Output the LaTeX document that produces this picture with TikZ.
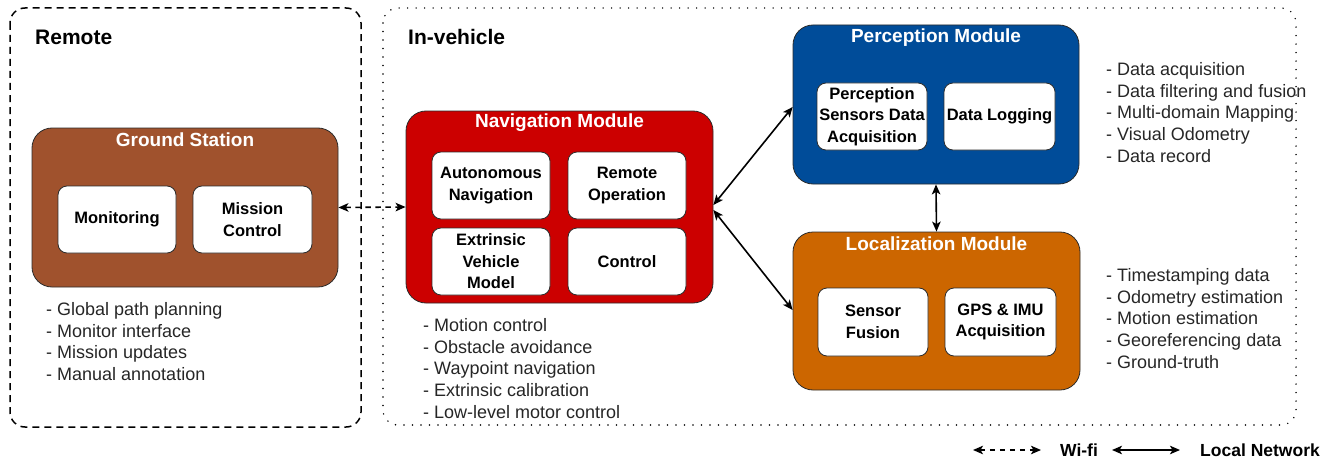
\documentclass[tikz,border=0pt]{standalone}
\usepackage{fontspec}
\setmainfont{Liberation Sans}
\usetikzlibrary{arrows.meta}
\definecolor{gsbrown}{HTML}{A0522D}
\definecolor{navred}{HTML}{CC0000}
\definecolor{percblue}{HTML}{004C99}
\definecolor{locorange}{HTML}{CC6600}
\definecolor{edge}{HTML}{2B2B2B}

\begin{document}
\begin{tikzpicture}[x=1pt,y=-1pt,
  module/.style={draw=edge, line width=0.8pt, rounded corners=20pt, inner sep=0pt},
  unit/.style={draw=edge, fill=white, line width=0.8pt, rounded corners=9pt,
    inner sep=0pt, align=center, font=\fontsize{16.5}{21.5}\selectfont\bfseries},
  title/.style={text=white, inner sep=0pt, font=\fontsize{19}{22}\selectfont\bfseries},
  heading/.style={anchor=west, inner sep=0pt, font=\fontsize{21}{24}\selectfont\bfseries},
  notes/.style={anchor=north west, inner sep=0pt, align=left, text=black!85,
    font=\fontsize{18}{21.6}\selectfont},
  legendtext/.style={inner sep=0pt, font=\fontsize{17.5}{20}\selectfont\bfseries},
  link/.style={line width=1.6pt, {Stealth[length=10pt,width=8.5pt,inset=2.5pt]}-{Stealth[length=10pt,width=8.5pt,inset=2.5pt]}},
  wifi/.style={link, dash pattern=on 5.5pt off 4.5pt},
]
\useasboundingbox (0,0) rectangle (1339,460);

% group frames
\draw[line width=1.5pt, dash pattern=on 7pt off 5pt, rounded corners=15pt]
  (10,8) rectangle (361,427);
\draw[line width=1.6pt, line cap=round, dash pattern=on 0pt off 8.5pt, rounded corners=15pt]
  (383,8) rectangle (1296,425);
\node[heading] (hremote) at (35,37) {Remote};
\node[heading] (hveh) at (408,37) {In-vehicle};

% ground station
\node[module, fill=gsbrown, minimum width=306pt, minimum height=159pt] (gs) at (185,207.5) {};
\node[title] (gst) at (185,140) {Ground Station};
\node[unit, minimum width=118pt, minimum height=67pt] (mon) at (117,219.5) {Monitoring};
\node[unit, minimum width=119pt, minimum height=67pt] (mc) at (252.5,219.5) {Mission\\Control};
\node[notes] (gsl) at (46,302.5) {- Global path planning\\- Monitor interface\\- Mission updates\\- Manual annotation};

% navigation module
\node[module, fill=navred, minimum width=307pt, minimum height=192pt] (nav) at (559.5,207) {};
\node[title] (navt) at (559.5,122.5) {Navigation Module};
\node[unit, minimum width=118pt, minimum height=67pt] (auto) at (491,185.5) {Autonomous\\Navigation};
\node[unit, minimum width=118pt, minimum height=67pt] (remop) at (627,185.5) {Remote\\Operation};
\node[unit, minimum width=118pt, minimum height=67pt] (evm) at (491,261.5) {Extrinsic\\Vehicle\\Model};
\node[unit, minimum width=118pt, minimum height=67pt] (ctrl) at (627,261.5) {Control};
\node[notes] (navl) at (423,318.5) {- Motion control\\- Obstacle avoidance\\- Waypoint navigation\\- Extrinsic calibration\\- Low-level motor control};

% perception module
\node[module, fill=percblue, minimum width=286pt, minimum height=159pt] (perc) at (936,104.5) {};
\node[title] (perct) at (936,38) {Perception Module};
\node[unit, minimum width=110pt, minimum height=67pt] (psda) at (872,116.5) {Perception\\Sensors Data\\Acquisition};
\node[unit, minimum width=111pt, minimum height=67pt] (dlog) at (999.5,116.5) {Data Logging};
\node[notes] (percl) at (1106,62.5) {- Data acquisition\\- Data filtering and fusion\\- Multi-domain Mapping\\- Visual Odometry\\- Data record};

% localization module
\node[module, fill=locorange, minimum width=287pt, minimum height=158pt] (loc) at (936.5,311) {};
\node[title] (loct) at (936.5,243.5) {Localization Module};
\node[unit, minimum width=110pt, minimum height=68pt] (sfus) at (873,322) {Sensor\\Fusion};
\node[unit, minimum width=111pt, minimum height=68pt] (gps) at (1000.5,322) {GPS \& IMU\\Acquisition};
\node[notes] (locl) at (1106,268.5) {- Timestamping data\\- Odometry estimation\\- Motion estimation\\- Georeferencing data\\- Ground-truth};

% links
\draw[wifi] (gs.east) -- (nav.west);
\draw[link] ([yshift=2pt]nav.east) -- ([yshift=-2.5pt]perc.west);
\draw[link] ([yshift=-3pt]nav.east) -- ([yshift=1pt]loc.west);
\draw[link] (perc.south) -- (loc.north);

% legend
\coordinate (wa) at (973,450);
\coordinate (wb) at (1041,450);
\coordinate (la) at (1112,450);
\coordinate (lb) at (1180,450);
\draw[wifi] (wa) -- (wb);
\node[legendtext] (wtxt) at (1079,450) {Wi-fi};
\draw[link] (la) -- (lb);
\node[legendtext, anchor=west] (ltxt) at (1200,450) {Local Network};
\end{tikzpicture}
\end{document}
